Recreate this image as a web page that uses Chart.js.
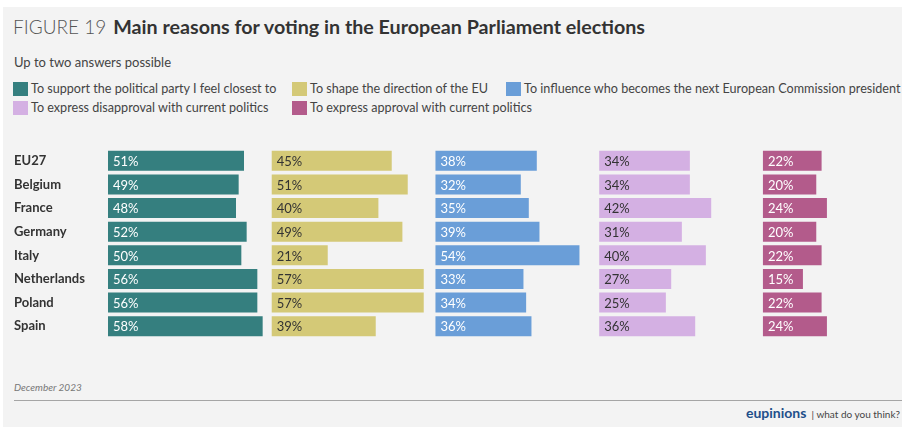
<!DOCTYPE html>
<html>
<head>
<meta charset="utf-8">
<script src="https://cdn.jsdelivr.net/npm/chart.js@4/dist/chart.umd.min.js"></script>
<style>
  html, body { margin: 0; padding: 0; background: #ffffff; }
  body { width: 902px; height: 427px; position: relative; overflow: hidden; font-family: Lato, "Open Sans", sans-serif; color: #333; }
  #panel { position: absolute; left: 3px; top: 7px; width: 899px; height: 420px; background: #f3f3f3; }
  .abs { position: absolute; white-space: nowrap; }
  #title { left: 13px; top: 15px; line-height: 24px; }
  #title .fig { font-weight: 300; color: #555; font-size: 19px; }
  #title .main { font-weight: 700; color: #333; margin-left: 7px; font-size: 19.7px; }
  #subtitle { left: 14px; top: 54px; font-size: 13px; line-height: 16px; color: #444; }
  .lg { position: absolute; height: 16px; font-size: 12.6px; line-height: 16px; color: #444; white-space: nowrap; }
  .lg .box { position: absolute; left: 0; top: 1px; width: 15px; height: 14px; }
  .lg .txt { position: absolute; left: 18px; top: 0; }
  #date { left: 14px; top: 381px; font-size: 10px; font-style: italic; color: #777; }
  #rule { position: absolute; left: 14px; top: 400px; width: 888px; height: 1px; background: #a5a5a5; }
  #brand { right: 2px; top: 404px; font-size: 10px; color: #444; line-height: 18px; }
  #brand b { font-size: 14px; color: #1f4f8a; font-weight: 700; }
  #chartWrap { position: absolute; left: 0; top: 0; width: 902px; height: 427px; }
</style>
</head>
<body>
<div id="panel"></div>
<div id="title" class="abs"><span class="fig">FIGURE 19</span><span class="main">Main reasons for voting in the European Parliament elections</span></div>
<div id="subtitle" class="abs">Up to two answers possible</div>
<div id="legend"></div>
<div id="date" class="abs">December 2023</div>
<div id="rule"></div>
<div id="brand" class="abs"><b>eupinions</b> &nbsp;|&nbsp;what do you think?</div>
<div id="chartWrap"><canvas id="c" width="902" height="427"></canvas></div>
<script>
const countries = ["EU27", "Belgium", "France", "Germany", "Italy", "Netherlands", "Poland", "Spain"];

const seriesNames = [
  "To support the political party I feel closest to",
  "To shape the direction of the EU",
  "To influence who becomes the next European Commission president",
  "To express disapproval with current politics",
  "To express approval with current politics"
];

const supportParty   = [51, 49, 48, 52, 50, 56, 56, 58];
const shapeDirection = [45, 51, 40, 49, 21, 57, 57, 39];
const influencePres  = [38, 32, 35, 39, 54, 33, 34, 36];
const disapproval    = [34, 34, 42, 31, 40, 27, 25, 36];
const approval       = [22, 20, 24, 20, 22, 15, 22, 24];

const seriesValues = [supportParty, shapeDirection, influencePres, disapproval, approval];
const seriesColors = ["#357f7f", "#d4c977", "#6a9ed8", "#d4b0e3", "#b35b8b"];
const labelColors  = ["#ffffff", "#333333", "#ffffff", "#333333", "#ffffff"];

// legend layout (HTML)
const legendPos = [[13, 81], [292, 81], [506, 81], [13, 100], [292, 100]];
const legendEl = document.getElementById('legend');
seriesNames.forEach((name, i) => {
  const d = document.createElement('div');
  d.className = 'lg';
  d.style.left = legendPos[i][0] + 'px';
  d.style.top = legendPos[i][1] + 'px';
  d.innerHTML = '<span class="box" style="background:' + seriesColors[i] + '"></span><span class="txt"></span>';
  d.querySelector('.txt').textContent = name;
  legendEl.appendChild(d);
});

// Each series drawn in its own column: offset in value units
const COLUMN_SPAN = 61.4;
const X_MAX = 297;

const datasets = seriesValues.map((vals, i) => ({
  label: seriesNames[i],
  data: vals.map(v => [i * COLUMN_SPAN, i * COLUMN_SPAN + v]),
  rawValues: vals,
  backgroundColor: seriesColors[i],
  borderWidth: 0,
  grouped: false,
  categoryPercentage: 1.0,
  barPercentage: 0.85
}));

const valueLabels = {
  id: 'valueLabels',
  afterDatasetsDraw(chart) {
    const ctx = chart.ctx;
    ctx.save();
    ctx.font = '13px Lato, "Open Sans", sans-serif';
    ctx.textBaseline = 'middle';
    ctx.textAlign = 'left';
    chart.data.datasets.forEach((ds, i) => {
      const meta = chart.getDatasetMeta(i);
      ctx.fillStyle = labelColors[i];
      meta.data.forEach((el, j) => {
        const left = Math.min(el.x, el.base);
        ctx.fillText(ds.rawValues[j] + '%', left + 5, el.y + 1);
      });
    });
    ctx.restore();
  }
};

new Chart(document.getElementById('c'), {
  type: 'bar',
  data: { labels: countries, datasets: datasets },
  options: {
    indexAxis: 'y',
    responsive: false,
    animation: false,
    maintainAspectRatio: false,
    layout: { padding: { left: 14, right: 2, top: 149, bottom: 89 } },
    plugins: { legend: { display: false }, tooltip: { enabled: false } },
    scales: {
      x: { display: false, min: 0, max: X_MAX, grid: { display: false } },
      y: {
        grid: { display: false },
        border: { display: false },
        ticks: {
          crossAlign: 'far',
          padding: 0,
          color: '#333',
          font: { family: 'Lato, "Open Sans", sans-serif', size: 13, weight: 'bold' }
        },
        afterFit(scale) { scale.width = 94; }
      }
    }
  },
  plugins: [valueLabels]
});
</script>
</body>
</html>
